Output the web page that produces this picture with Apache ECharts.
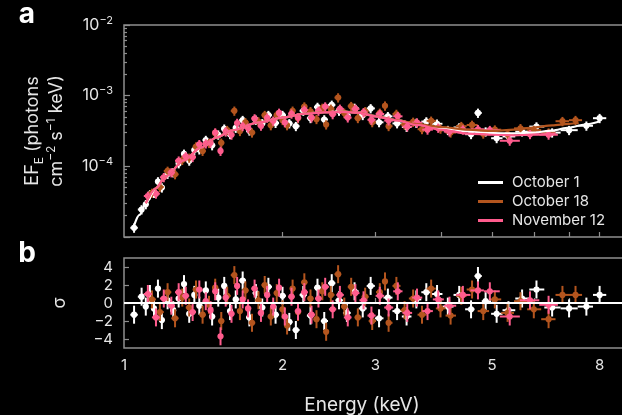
<!DOCTYPE html>
<html>
<head>
<meta charset="utf-8">
<script src="https://cdn.jsdelivr.net/npm/echarts@6/dist/echarts.min.js"></script>
<style>
html,body{margin:0;padding:0;background:#000;}
#c{width:622px;height:415px;}
</style>
</head>
<body>
<div id="c"></div>
<script>
// ---------------- data ----------------
const seriesNames = ['October 1', 'October 18', 'November 12'];

// October 1 (white)
const oct1E = [1.045,1.08,1.10,1.12,1.14,1.16,1.18,1.21,1.24,1.27,1.30,1.33,1.36,1.39,1.43,1.47,1.51,1.55,1.59,1.63,1.68,1.73,1.78,1.83,1.88,1.94,2.00,2.06,2.12,2.19,2.26,2.33,2.40,2.48,2.56,2.65,2.74,2.84,2.94,3.05,3.17,3.30,3.44,3.59,3.75,3.93,4.12,4.33,4.56,4.70,4.86,5.10,5.37,5.70,6.07,6.50,7.00,7.55,8.00];
const oct1Flux = [1.35e-5,2.45e-5,2.9e-5,4.0e-5,4.2e-5,6.1e-5,5.0e-5,7.8e-5,8.2e-5,1.1e-4,1.5e-4,1.2e-4,1.7e-4,1.73e-4,2.35e-4,1.98e-4,2.8e-4,3.4e-4,2.85e-4,3.5e-4,4.5e-4,3.2e-4,4.55e-4,4.05e-4,5.3e-4,4.1e-4,5.3e-4,4.05e-4,3.7e-4,6.1e-4,4.8e-4,6.9e-4,4.6e-4,7.4e-4,6.1e-4,5.3e-4,6.7e-4,5.3e-4,6.6e-4,4.2e-4,5.1e-4,4.05e-4,3.6e-4,4.1e-4,4.3e-4,4.0e-4,3.25e-4,3.55e-4,2.85e-4,5.7e-4,3.1e-4,2.5e-4,2.65e-4,3.1e-4,3.65e-4,3.0e-4,3.25e-4,3.75e-4,4.8e-4];
const oct1Resid = [-1.3,0.7,-0.4,1.0,-0.6,1.6,-1.9,0.3,-0.8,0.5,2.1,-1.2,0.9,-0.3,1.4,-1.5,0.6,1.9,-0.9,0.4,2.5,-1.6,1.1,-0.5,1.8,-1.3,0.8,-2.1,-3.0,0.9,-1.4,1.7,-2.0,2.2,0.3,-1.1,1.3,-0.6,1.9,-1.7,0.6,-0.9,-1.5,0.4,1.2,1.0,-0.4,0.9,-0.7,3.0,0.2,-1.2,-0.8,0.5,1.5,-0.5,-0.6,-0.4,0.9];
const oct1ModelE = [1.045,1.07,1.1,1.15,1.2,1.3,1.4,1.5,1.6,1.8,2.0,2.2,2.4,2.6,2.8,3.0,3.3,3.6,4.0,4.5,5.0,5.5,6.0,6.5,7.0,7.5,8.0];
const oct1Model = [1.45e-5,2.05e-5,3.0e-5,4.9e-5,7.2e-5,1.22e-4,1.85e-4,2.56e-4,3.21e-4,4.17e-4,4.9e-4,5.58e-4,5.86e-4,5.95e-4,5.75e-4,5.15e-4,4.5e-4,3.93e-4,3.48e-4,3.11e-4,2.96e-4,2.92e-4,3.01e-4,3.21e-4,3.54e-4,3.91e-4,4.31e-4];

// October 18 (brown)
const oct18E = [1.13,1.17,1.21,1.25,1.29,1.33,1.37,1.41,1.45,1.49,1.53,1.57,1.62,1.66,1.70,1.75,1.80,1.85,1.90,1.95,2.00,2.04,2.09,2.14,2.20,2.26,2.32,2.38,2.42,2.47,2.55,2.62,2.70,2.78,2.87,2.96,3.06,3.13,3.18,3.29,3.41,3.54,3.68,3.83,3.99,4.17,4.37,4.58,4.81,5.06,5.35,5.66,6.00,6.40,6.80,7.20];
const oct18Flux = [4.2e-5,5.1e-5,8.6e-5,7.7e-5,1.23e-4,1.32e-4,1.9e-4,1.65e-4,2.13e-4,2.95e-4,2.15e-4,3.25e-4,6.1e-4,3.15e-4,4.2e-4,3.0e-4,4.3e-4,5.3e-4,3.8e-4,5.3e-4,4.5e-4,3.8e-4,6.1e-4,4.8e-4,7.0e-4,6.0e-4,4.65e-4,6.7e-4,3.9e-4,6.5e-4,9.4e-4,5.7e-4,7.1e-4,4.8e-4,6.0e-4,4.2e-4,5.7e-4,7.2e-4,3.7e-4,5.5e-4,3.9e-4,4.25e-4,3.35e-4,4.4e-4,3.4e-4,3.0e-4,3.7e-4,3.85e-4,2.9e-4,3.3e-4,2.85e-4,3.45e-4,3.25e-4,3.0e-4,4.35e-4,4.5e-4];
const oct18Resid = [0.4,-1.0,1.2,-1.7,0.6,-0.5,1.5,-1.3,-0.2,1.7,-2.0,0.8,3.1,-0.9,1.4,-2.2,0.3,2.0,-1.5,1.1,-0.7,-2.5,1.6,-1.0,2.3,0.5,-1.8,1.3,-3.2,0.9,3.2,-0.4,1.8,-1.6,0.7,-2.0,1.2,2.4,-2.2,1.9,-0.8,0.5,-1.3,1.6,-0.6,-1.4,0.8,1.5,-0.9,0.4,-1.1,0.2,-0.7,-1.8,0.9,0.9];
const oct18ModelE = [1.1,1.15,1.2,1.3,1.4,1.5,1.6,1.8,2.0,2.2,2.4,2.6,2.8,3.0,3.3,3.6,4.0,4.5,5.0,5.5,6.0,6.5,7.0,7.3];
const oct18Model = [3.0e-5,4.9e-5,7.2e-5,1.22e-4,1.85e-4,2.56e-4,3.21e-4,4.17e-4,4.9e-4,5.58e-4,5.86e-4,5.95e-4,5.75e-4,5.15e-4,4.5e-4,3.95e-4,3.6e-4,3.3e-4,3.17e-4,3.3e-4,3.54e-4,3.8e-4,4.0e-4,4.1e-4];

// November 12 (pink)
const nov12E = [1.11,1.15,1.19,1.23,1.27,1.31,1.35,1.39,1.43,1.46,1.49,1.525,1.56,1.60,1.64,1.68,1.72,1.77,1.82,1.87,1.92,1.97,2.02,2.08,2.14,2.20,2.27,2.34,2.41,2.49,2.57,2.66,2.75,2.85,2.95,3.06,3.18,3.31,3.45,3.60,3.77,3.95,4.15,4.40,4.70,4.95,5.40,5.90,6.40];
const nov12Flux = [3.8e-5,4.1e-5,7.0e-5,8.2e-5,1.2e-4,1.38e-4,1.35e-4,2.05e-4,2.1e-4,2.15e-4,3.0e-4,1.65e-4,3.1e-4,2.8e-4,4.1e-4,3.7e-4,3.5e-4,4.75e-4,3.75e-4,4.85e-4,4.4e-4,5.7e-4,4.2e-4,5.55e-4,4.9e-4,6.3e-4,4.9e-4,6.1e-4,7.0e-4,5.45e-4,6.5e-4,4.9e-4,6.5e-4,5.8e-4,4.55e-4,5.5e-4,4.45e-4,5.1e-4,3.65e-4,4.15e-4,3.3e-4,3.5e-4,3.1e-4,3.3e-4,3.35e-4,3.25e-4,2.3e-4,2.85e-4,2.8e-4];
const nov12Resid = [1.0,-1.6,0.5,-0.3,1.2,0.8,-1.0,1.5,0.2,-0.8,1.3,-3.7,0.6,-1.2,1.9,0.4,-0.6,1.6,-1.1,0.9,-0.4,1.7,-1.5,0.7,-0.9,1.2,-1.3,0.5,1.8,-0.7,0.9,-1.6,1.1,0.3,-1.4,0.8,-0.5,1.3,-1.1,0.6,-0.9,0.4,-0.3,0.9,1.4,1.3,-1.5,0.3,-0.2];
const nov12ModelE = [1.1,1.15,1.2,1.3,1.4,1.5,1.6,1.8,2.0,2.2,2.4,2.6,2.8,3.0,3.3,3.6,4.0,4.5,5.0,5.5,6.0,6.6];
const nov12Model = [3.0e-5,4.9e-5,7.2e-5,1.22e-4,1.85e-4,2.56e-4,3.21e-4,4.17e-4,4.9e-4,5.55e-4,5.8e-4,5.88e-4,5.7e-4,5.1e-4,4.45e-4,3.85e-4,3.3e-4,2.9e-4,2.8e-4,2.75e-4,2.8e-4,2.9e-4];

const fluxRelErr = 0.15;          // typical 1-sigma relative flux error
const residErr = 1;               // residuals are in units of sigma

// axis ticks / labels
const xMin = 1, xMax = 8.9;
const xTickValues = [2,3,4,5,6,7,8];
const xTickLabels = [1,2,3,5,8];
const yTopMin = 1e-5, yTopMax = 1e-2;
const yTopLabelExps = [-4,-3,-2];
const residMin = -5, residMax = 5;
const residTicks = [-4,-2,0,2,4];

// ---------------- build ----------------
const L = Math.log10;
const FONT = 'Inter, "Noto Sans", sans-serif';
const TXT = '#e6e6e6';
const AX = '#8e8e8e';
const colors = ['#ffffff', '#b4551e', '#ff5c8d'];

function edges(E) {
  const l = E.map(L);
  return l.map((v, i) => {
    const lo = i > 0 ? (l[i-1] + v) / 2 : v - (l[1] - l[0]) / 2;
    const hi = i < l.length - 1 ? (l[i+1] + v) / 2 : v + (v - l[i-1]) / 2;
    return [lo, hi];
  });
}
function specData(E, F) {
  const ed = edges(E);
  return E.map((e, i) => [L(e), L(F[i]), ed[i][0], ed[i][1], L(F[i] * (1 - fluxRelErr)), L(F[i] * (1 + fluxRelErr))]);
}
function residData(E, R) {
  const ed = edges(E);
  return E.map((e, i) => [L(e), R[i], ed[i][0], ed[i][1], R[i] - residErr, R[i] + residErr]);
}
function modelData(E, F) { return E.map((e, i) => [L(e), L(F[i])]); }

function renderErr(params, api) {
  const x = api.value(0), y = api.value(1);
  const c = api.coord([x, y]);
  const a = api.coord([api.value(2), y]), b = api.coord([api.value(3), y]);
  const d = api.coord([x, api.value(4)]), t = api.coord([x, api.value(5)]);
  const col = api.visual('color');
  return {
    type: 'group',
    children: [
      { type: 'line', shape: { x1: a[0], y1: a[1], x2: b[0], y2: b[1] }, style: { stroke: col, lineWidth: 2 } },
      { type: 'line', shape: { x1: t[0], y1: t[1], x2: d[0], y2: d[1] }, style: { stroke: col, lineWidth: 2 } },
      { type: 'circle', shape: { cx: c[0], cy: c[1], r: 3.1 }, style: { fill: col } }
    ]
  };
}

const specSets = [[oct1E, oct1Flux], [oct18E, oct18Flux], [nov12E, nov12Flux]];
const residSets = [[oct1E, oct1Resid], [oct18E, oct18Resid], [nov12E, nov12Resid]];
const modelSets = [[oct1ModelE, oct1Model], [oct18ModelE, oct18Model], [nov12ModelE, nov12Model]];

const series = [];
specSets.forEach((s, i) => series.push({
  type: 'custom', name: seriesNames[i], xAxisIndex: 0, yAxisIndex: 0,
  renderItem: renderErr, encode: { x: 0, y: 1 }, data: specData(s[0], s[1]),
  itemStyle: { color: colors[i] }, clip: true, z: 2, silent: true
}));
residSets.forEach((s, i) => series.push({
  type: 'custom', name: seriesNames[i], xAxisIndex: 1, yAxisIndex: 2,
  renderItem: renderErr, encode: { x: 0, y: 1 }, data: residData(s[0], s[1]),
  itemStyle: { color: colors[i] }, clip: true, z: 2, silent: true
}));
modelSets.forEach((s, i) => series.push({
  type: 'line', name: seriesNames[i], xAxisIndex: 0, yAxisIndex: 0,
  data: modelData(s[0], s[1]), symbol: 'none', smooth: 0.3, smoothMonotone: 'x',
  lineStyle: { color: colors[i], width: 2.2 }, itemStyle: { color: colors[i] }, z: 4, silent: true
}));
series.push({
  type: 'line', name: 'zero', xAxisIndex: 1, yAxisIndex: 2,
  data: [[L(xMin), 0], [L(xMax), 0]], symbol: 'none',
  lineStyle: { color: '#ffffff', width: 2 }, z: 6, silent: true
});

const minorY = [];
for (let d = -5; d <= -3; d++) for (let k = 2; k <= 9; k++) minorY.push(d + L(k));

const xCommon = { type: 'value', min: L(xMin), max: L(xMax), axisLine: { show: false }, splitLine: { show: false } };
const tickStyle = { color: AX, width: 1.2 };
const minus = v => (v < 0 ? '\u2212' + Math.abs(v) : String(v));

const option = {
  backgroundColor: '#000',
  animation: false,
  textStyle: { fontFamily: FONT },
  grid: [
    { left: 124, top: 25, width: 500, height: 212, show: true, borderColor: AX, borderWidth: 1.5, outerBoundsMode: 'none' },
    { left: 124, top: 258, width: 500, height: 90, show: true, borderColor: AX, borderWidth: 1.5, outerBoundsMode: 'none' }
  ],
  xAxis: [
    Object.assign({}, xCommon, { gridIndex: 0,
      axisTick: { inside: true, length: 5, customValues: xTickValues.map(L), lineStyle: tickStyle },
      axisLabel: { show: false } }),
    Object.assign({}, xCommon, { gridIndex: 1,
      axisTick: { inside: true, length: 5, customValues: xTickValues.map(L), lineStyle: tickStyle },
      axisLabel: { customValues: xTickLabels.map(L), color: TXT, fontSize: 15, margin: 10, fontFamily: FONT,
        formatter: v => { const m = xTickLabels.find(t => Math.abs(L(t) - v) < 1e-6); return m === undefined ? '' : String(m); } } })
  ],
  yAxis: [
    { type: 'value', gridIndex: 0, min: L(yTopMin), max: L(yTopMax), axisLine: { show: false }, splitLine: { show: false },
      axisTick: { inside: true, length: 6, customValues: [-5, -4, -3, -2], lineStyle: tickStyle },
      axisLabel: { customValues: yTopLabelExps, margin: 11, fontFamily: FONT,
        formatter: v => '{b|10}{s|' + minus(Math.round(v)) + '}',
        rich: { b: { fontSize: 16, lineHeight: 20, color: TXT, fontFamily: FONT },
                s: { fontSize: 11, lineHeight: 11, verticalAlign: 'top', color: TXT, fontFamily: FONT } } } },
    { type: 'value', gridIndex: 0, position: 'left', min: L(yTopMin), max: L(yTopMax), axisLine: { show: false }, splitLine: { show: false },
      axisTick: { inside: true, length: 3, customValues: minorY, lineStyle: tickStyle }, axisLabel: { show: false } },
    { type: 'value', gridIndex: 1, min: residMin, max: residMax, axisLine: { show: false }, splitLine: { show: false },
      axisTick: { inside: true, length: 5, customValues: residTicks, lineStyle: tickStyle },
      axisLabel: { customValues: residTicks, color: TXT, fontSize: 15, margin: 11, fontFamily: FONT, formatter: v => minus(v) } }
  ],
  legend: {
    orient: 'vertical', left: 478, top: 175, padding: 0, itemWidth: 25, itemHeight: 3, itemGap: 4, icon: 'rect',
    selectedMode: false, data: seriesNames,
    textStyle: { color: TXT, fontSize: 15, lineHeight: 14, padding: [0, 0, 0, 4], fontFamily: FONT }
  },
  graphic: [
    { type: 'text', x: 27, y: 15, style: { text: 'a', fill: '#fff', font: 'bold 28px ' + FONT, align: 'center', verticalAlign: 'middle' } },
    { type: 'text', x: 27, y: 254, style: { text: 'b', fill: '#fff', font: 'bold 28px ' + FONT, align: 'center', verticalAlign: 'middle' } },
    { type: 'text', x: 45, y: 131, rotation: Math.PI / 2,
      style: { text: '{t|EF}{sub|E}{t| (photons}\n{t|cm}{sup|\u22122}{t| s}{sup|\u22121}{t| keV)}',
        align: 'center', verticalAlign: 'middle', fill: TXT,
        rich: { t: { fontSize: 18, lineHeight: 24, fill: TXT, fontFamily: FONT },
                sub: { fontSize: 12, lineHeight: 12, verticalAlign: 'bottom', fill: TXT, fontFamily: FONT },
                sup: { fontSize: 12, lineHeight: 12, verticalAlign: 'top', fill: TXT, fontFamily: FONT } } } },
    { type: 'text', x: 60, y: 303, rotation: Math.PI / 2,
      style: { text: '\u03c3', fill: TXT, font: '18px ' + FONT, align: 'center', verticalAlign: 'middle' } },
    { type: 'text', x: 362, y: 405, style: { text: 'Energy (keV)', fill: TXT, font: '19px ' + FONT, align: 'center', verticalAlign: 'middle' } }
  ],
  series: series
};

const chart = echarts.init(document.getElementById('c'), null, { renderer: 'canvas' });
chart.setOption(option);
</script>
</body>
</html>
